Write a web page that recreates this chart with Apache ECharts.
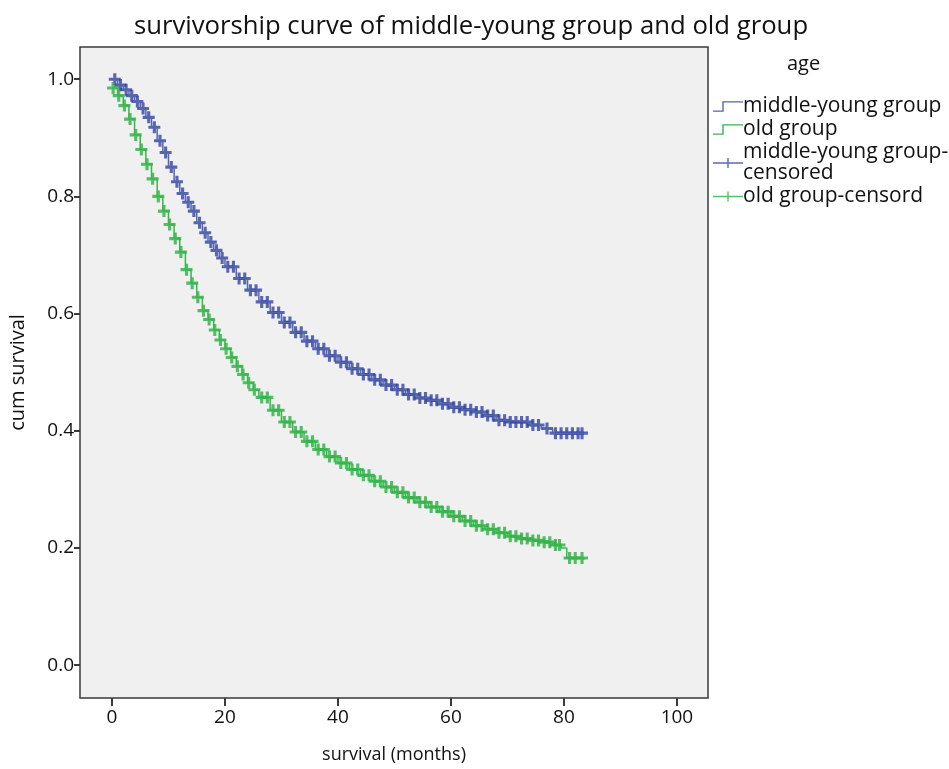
<!DOCTYPE html>
<html>
<head>
<meta charset="utf-8">
<script src="https://cdn.jsdelivr.net/npm/echarts@6/dist/echarts.min.js"></script>
<style>html,body{margin:0;padding:0;background:#fff;}#c{width:949px;height:769px;}</style>
</head>
<body>
<div id="c"></div>
<script>
// Data
const youngTimes = [0,1,2,3,4,5,6,7,8,9,10,11,12,13,14,15,16,17,18,19,20,22,24,26,28,30,32,34,36,38,40,42,44,46,48,50,52,54,56,58,60,62,64,66,68,70,74,76,78,83.5];
const youngSurv  = [1.0,0.99,0.982,0.972,0.962,0.95,0.935,0.918,0.895,0.875,0.85,0.825,0.805,0.79,0.775,0.755,0.738,0.722,0.708,0.695,0.68,0.66,0.64,0.62,0.602,0.585,0.568,0.553,0.54,0.528,0.517,0.506,0.496,0.487,0.478,0.47,0.462,0.456,0.452,0.446,0.44,0.436,0.432,0.426,0.418,0.415,0.41,0.404,0.396,0.396];
const oldTimes = [0,1,2,3,4,5,6,7,8,9,10,11,12,13,14,15,16,17,18,19,20,21,22,23,24,25,26,28,30,32,34,36,38,40,42,44,46,48,50,52,54,56,58,60,62,64,66,68,70,72,74,76,78,79.5,80.5,83.5];
const oldSurv  = [0.985,0.972,0.955,0.932,0.905,0.88,0.855,0.83,0.8,0.775,0.752,0.728,0.705,0.675,0.652,0.628,0.605,0.59,0.572,0.555,0.54,0.525,0.51,0.496,0.482,0.47,0.457,0.435,0.415,0.398,0.382,0.368,0.356,0.345,0.334,0.324,0.314,0.304,0.295,0.286,0.278,0.27,0.262,0.254,0.246,0.238,0.232,0.226,0.22,0.216,0.213,0.21,0.205,0.2,0.183,0.18];
const youngCensor = [0.5,1.5,2.5,3.5,4.5,5.5,6.5,7.5,8.5,9.5,10.5,11.5,12.5,13.5,14.5,15.5,16.5,17.5,18.5,19.5,20.5,21.5,22.5,23.5,24.5,25.5,26.5,27.5,28.5,29.5,30.5,31.5,32.5,33.5,34.5,35.5,36.5,37.5,38.5,39.5,40.5,41.5,42.5,43.5,44.5,45.5,46.5,47.5,48.5,49.5,50.5,51.5,52.5,53.5,54.5,55.5,56.5,57.5,58.5,59.5,60.5,61.5,62.5,63.5,64.5,65.5,66.5,67.5,68.5,69.5,70.5,71.5,72.5,73.5,74.5,75.5,77,78.5,79.5,80.5,81.5,82.5,83.2];
const oldCensor = [0.2,1.2,2.2,3.2,4.2,5.2,6.2,7.2,8.2,9.2,10.2,11.2,12.2,13.2,14.2,15.2,16.2,17.2,18.2,19.2,20.2,21.2,22.2,23.2,24.2,25.2,26.5,27.5,28.5,29.5,30.5,31.5,32.5,33.5,34.5,35.5,36.5,37.5,38.5,39.5,40.5,41.5,42.5,43.5,44.5,45.5,46.5,47.5,48.5,49.5,50.5,51.5,52.5,53.5,54.5,55.5,56.5,57.5,58.5,59.5,60.5,61.5,62.5,63.5,64.5,65.5,66.5,67.5,68.5,69.5,70.5,71.5,72.5,73.5,74.5,75.5,76.5,77.5,78.5,79.2,81,82,83.2];
const xTicks = [0,20,40,60,80,100];
const yTicks = [0.0,0.2,0.4,0.6,0.8,1.0];

const seriesNames = ['middle-young group','old group','middle-young group-censored','old group-censord'];
const blueLine = '#5566a8', greenLine = '#38b64c', blueMark = '#3244a4', greenMark = '#2bb042';

function pairs(ts, ss){ return ts.map((t,i)=>[t, ss[i]]); }
function stepAt(ts, ss, t){ let v = ss[0]; for (let i=0;i<ts.length;i++){ if (ts[i] <= t) v = ss[i]; } return v; }
function censorPts(cs, ts, ss){ return cs.map(t=>[t, stepAt(ts, ss, t)]); }

const plus = 'path://M3.7,0H6.3V10H3.7ZM0,3.7H10V6.3H0Z';
const plusLegend = 'path://M0,4.3H30V5.7H0ZM14.3,0H15.7V10H14.3Z';
const stepIcon = 'path://M0,9.3H9.3V0H30V1.4H10.7V10.7H0Z';
const font = 'Open Sans';

const chart = echarts.init(document.getElementById('c'));
chart.setOption({
  animation: false,
  backgroundColor: '#ffffff',
  title: {
    text: 'survivorship curve of middle-young group and old group',
    left: 466, top: 9, textAlign: 'center',
    textStyle: { fontFamily: font, fontSize: 25.7, fontWeight: 'normal', color: '#111' }
  },
  grid: { left: 80, right: 241, top: 47, bottom: 71, show: true, backgroundColor: '#f0f0f0', borderColor: '#3a3a3a', borderWidth: 1.5, outerBoundsMode: 'none', containLabel: false },
  xAxis: {
    type: 'value', min: -5.66, max: 105.5,
    name: 'survival (months)', nameLocation: 'middle', nameGap: 48,
    nameTextStyle: { fontFamily: font, fontSize: 18, color: '#111' },
    axisLine: { show: false, onZero: false },
    splitLine: { show: false },
    axisTick: { show: true, length: 8, customValues: xTicks, lineStyle: { color: '#3a3a3a', width: 2 } },
    axisLabel: { customValues: xTicks, fontFamily: font, fontSize: 19, color: '#111', margin: 10 }
  },
  yAxis: {
    type: 'value', min: -0.056, max: 1.055,
    name: 'cum survival', nameLocation: 'middle', nameGap: 52,
    nameTextStyle: { fontFamily: font, fontSize: 20, color: '#111' },
    axisLine: { show: false, onZero: false },
    splitLine: { show: false },
    axisTick: { show: true, length: 6, customValues: yTicks, lineStyle: { color: '#3a3a3a', width: 2 } },
    axisLabel: { customValues: yTicks, fontFamily: font, fontSize: 19, color: '#111', margin: 6, formatter: v => v.toFixed(1) }
  },
  legend: {
    orient: 'vertical', left: 708, top: 91, itemGap: 2, itemWidth: 30, itemHeight: 11,
    textStyle: { fontFamily: font, fontSize: 21, color: '#111', lineHeight: 21, padding: [0,0,0,-5] },
    formatter: n => n === 'middle-young group-censored' ? 'middle-young group-\ncensored' : n,
    data: [
      { name: seriesNames[0], icon: stepIcon, itemStyle: { color: blueLine } },
      { name: seriesNames[1], icon: stepIcon, itemStyle: { color: greenLine } },
      { name: seriesNames[2], icon: plusLegend, itemStyle: { color: blueMark } },
      { name: seriesNames[3], icon: plusLegend, itemStyle: { color: greenMark } }
    ]
  },
  graphic: [{ type: 'text', left: 787, top: 54, style: { text: 'age', fontFamily: font, fontSize: 20, fill: '#111' } }],
  series: [
    { name: seriesNames[0], type: 'line', step: 'end', showSymbol: false, data: pairs(youngTimes, youngSurv), lineStyle: { color: blueLine, width: 1.5 }, itemStyle: { color: blueLine } },
    { name: seriesNames[1], type: 'line', step: 'end', showSymbol: false, data: pairs(oldTimes, oldSurv), lineStyle: { color: greenLine, width: 1.5 }, itemStyle: { color: greenLine } },
    { name: seriesNames[2], type: 'scatter', symbol: plus, symbolSize: 12, data: censorPts(youngCensor, youngTimes, youngSurv), itemStyle: { color: blueMark } },
    { name: seriesNames[3], type: 'scatter', symbol: plus, symbolSize: 12, data: censorPts(oldCensor, oldTimes, oldSurv), itemStyle: { color: greenMark } }
  ]
});
</script>
</body>
</html>
